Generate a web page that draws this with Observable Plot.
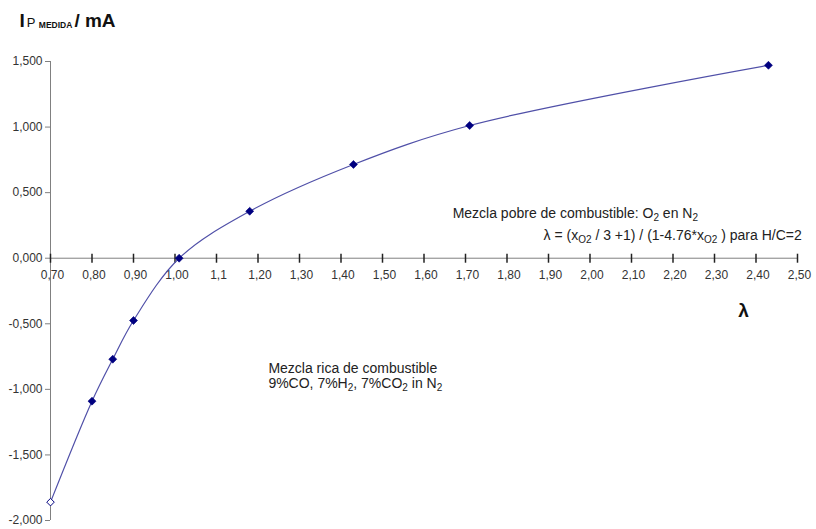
<!DOCTYPE html>
<html>
<head>
<meta charset="utf-8">
<script src="https://cdn.jsdelivr.net/npm/d3@7"></script>
<script src="https://cdn.jsdelivr.net/npm/@observablehq/plot@0.6"></script>
<style>
  html, body { margin: 0; padding: 0; background: #ffffff; }
  #chart { width: 816px; height: 529px; }
</style>
</head>
<body>
<div id="chart"></div>
<script>
// ---- data ----
const lambdaVals = [0.70, 0.80, 0.85, 0.90, 1.01, 1.18, 1.43, 1.71, 2.43];
const ipMedida   = [-1.86, -1.09, -0.77, -0.475, 0.0, 0.358, 0.715, 1.012, 1.471];

const xTicks      = [0.7, 0.8, 0.9, 1.0, 1.1, 1.2, 1.3, 1.4, 1.5, 1.6, 1.7, 1.8, 1.9, 2.0, 2.1, 2.2, 2.3, 2.4, 2.5];
const xTickLabels = ["0,70","0,80","0,90","1,00","1,1","1,20","1,30","1,40","1,50","1,60","1,70","1,80","1,90","2,00","2,10","2,20","2,30","2,40","2,50"];
const yTicks      = [-2.0, -1.5, -1.0, -0.5, 0.0, 0.5, 1.0, 1.5];
const yTickLabels = ["-2,000","-1,500","-1,000","-0,500","0,000","0,500","1,000","1,500"];

const titleText = "IP MEDIDA/ mA";
const xLabel = "λ";
const notePobre1 = "Mezcla pobre de combustible: O_{2} en N_{2}";
const notePobre2 = "λ = (x_{O2} / 3 +1) / (1-4.76*x_{O2} ) para H/C=2";
const noteRica1 = "Mezcla rica de combustible";
const noteRica2 = "9%CO, 7%H_{2}, 7%CO_{2} in N_{2}";

const points = lambdaVals.map((x, i) => ({lambda: x, ip: ipMedida[i]}));

const vtick = {draw(ctx) { ctx.moveTo(0, -4.5); ctx.lineTo(0, 4.5); }};

const chart = Plot.plot({
  width: 816,
  height: 529,
  marginLeft: 50,
  marginRight: 19,
  marginTop: 61,
  marginBottom: 9,
  style: {fontFamily: "'Liberation Sans', Arial, sans-serif", background: "#ffffff", color: "#222"},
  x: {domain: [0.7, 2.5], axis: null},
  y: {domain: [-2, 1.5]},
  marks: [
    Plot.ruleX([0.7], {stroke: "#808080"}),
    Plot.ruleY([0], {stroke: "#808080"}),
    Plot.axisY(yTicks, {
      tickFormat: d => yTickLabels[yTicks.indexOf(d)],
      tickSize: 5, tickPadding: 3, stroke: "#808080", fill: "#333", fontSize: 12, label: null
    }),
    Plot.dot(xTicks, {x: d => d, y: () => 0, symbol: vtick, stroke: "#222", fill: "none"}),
    Plot.text(xTicks, {x: d => d, y: () => 0, text: xTickLabels, dy: 17, dx: 2, fontSize: 12, fill: "#333"}),
    Plot.line(points, {x: "lambda", y: "ip", curve: "catmull-rom", stroke: "#5050a8", strokeWidth: 1.2}),
    Plot.dot(points, {filter: (d, i) => i > 0, x: "lambda", y: "ip", symbol: "diamond2", r: 3.6, fill: "#000080", stroke: "#000080", strokeWidth: 0.6}),
    Plot.dot(points, {filter: (d, i) => i === 0, x: "lambda", y: "ip", symbol: "diamond2", r: 3.4, fill: "#ffffff", stroke: "#000080", strokeWidth: 1}),
    Plot.text([titleText], {frameAnchor: "top-left", dx: -31, dy: -35, textAnchor: "start", lineAnchor: "bottom", fontSize: 19, fontWeight: "bold", fill: "#111"}),
    Plot.text([xLabel], {x: () => 2.37, y: () => -0.4, fontSize: 19, fontWeight: "bold", fill: "#111"}),
    Plot.text([notePobre1], {x: () => 1.669, y: () => 0.341, textAnchor: "start", fontSize: 14, fill: "#222"}),
    Plot.text([notePobre2], {x: () => 1.888, y: () => 0.175, textAnchor: "start", fontSize: 14, fill: "#222"}),
    Plot.text([noteRica1], {x: () => 1.225, y: () => -0.839, textAnchor: "start", fontSize: 14, fill: "#222"}),
    Plot.text([noteRica2], {x: () => 1.225, y: () => -0.955, textAnchor: "start", fontSize: 14, fill: "#222"})
  ]
});

document.getElementById("chart").appendChild(chart);

// ---- rich text: subscripts and title styling ----
const NS = "http://www.w3.org/2000/svg";
function addSpan(el, txt, attrs) {
  const t = document.createElementNS(NS, "tspan");
  t.textContent = txt;
  for (const k in attrs) if (attrs[k] != null) t.setAttribute(k, attrs[k]);
  el.appendChild(t);
}
d3.select(chart).selectAll("text").each(function() {
  const s = this.textContent;
  if (s === titleText) {
    this.textContent = "";
    addSpan(this, "I", {"font-size": 19, "font-weight": "bold"});
    addSpan(this, "P ", {"font-size": 13, "font-weight": "normal", dx: 2});
    addSpan(this, "MEDIDA", {"font-size": 8.5, "font-weight": "bold", dy: 1});
    addSpan(this, "/ mA", {"font-size": 19, "font-weight": "bold", dy: -1, dx: 2});
  } else if (s.includes("_{")) {
    this.textContent = "";
    const parts = s.split(/_\{([^}]*)\}/);
    let shifted = false;
    parts.forEach((p, i) => {
      if (p === "") return;
      if (i % 2 === 1) {
        addSpan(this, p, {"font-size": 10, dy: shifted ? null : 3});
        shifted = true;
      } else {
        addSpan(this, p, {dy: shifted ? -3 : null});
        shifted = false;
      }
    });
  }
});
</script>
</body>
</html>
